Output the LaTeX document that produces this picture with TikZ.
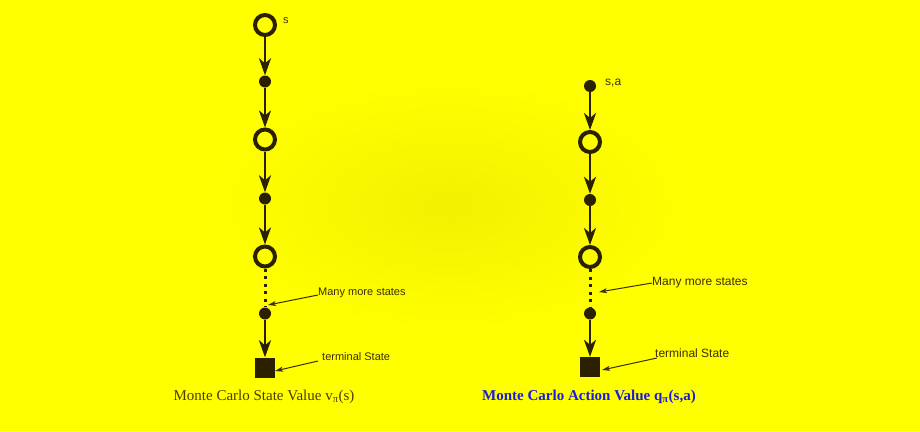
\documentclass[tikz,border=0pt]{standalone}
\usepackage{fontspec}
\setmainfont{Liberation Serif}
\newfontfamily\labfont{Liberation Sans}
\usetikzlibrary{arrows.meta}
\definecolor{ink}{HTML}{2B2100}
\definecolor{labink}{HTML}{3E2F00}
\definecolor{capbrown}{HTML}{4D3B00}
\definecolor{capblue}{HTML}{1A1AE0}
\definecolor{bgyel}{HTML}{FFFF00}
\definecolor{bgmid}{HTML}{F3F000}
\begin{document}
\begin{tikzpicture}[x=1pt,y=-1pt,
 statenode/.style={circle,draw=ink,line width=4pt,minimum size=20pt,inner sep=0pt},
 actnode/.style={circle,fill=ink,minimum size=12pt,inner sep=0pt},
 termnode/.style={rectangle,fill=ink,minimum size=20pt,inner sep=0pt},
 flow/.style={draw=ink,line width=2.5pt,-{Stealth[length=17pt,width=12pt,inset=5pt]}},
 more/.style={draw=ink,line width=3pt,dash pattern=on 3pt off 4.5pt},
 noteL/.style={inner sep=0pt,anchor=west,text=labink,font=\labfont\fontsize{11}{13}\selectfont},
 noteR/.style={inner sep=0pt,anchor=west,text=labink,font=\labfont\fontsize{12}{14}\selectfont},
 pointer/.style={draw=labink,line width=1pt,-{Stealth[length=8pt,width=5pt,inset=2pt]}},
]
% background
\fill[bgyel] (0,0) rectangle (920,431);
\shade[inner color=bgmid,outer color=bgyel] (450,205) ellipse (240 and 125);
\useasboundingbox (0,0) rectangle (920,431);

% left column
\node[statenode] (lc1) at (265,25) {};
\node[actnode]   (ld1) at (265,81.5) {};
\node[statenode] (lc2) at (265,139.5) {};
\node[actnode]   (ld2) at (265,198.5) {};
\node[statenode] (lc3) at (265,256.5) {};
\node[actnode]   (ld3) at (265,313.5) {};
\node[termnode]  (lt)  at (265,367.5) {};
\draw[flow] (lc1) -- (ld1);
\draw[flow] (ld1) -- (lc2);
\draw[flow] (lc2) -- (ld2);
\draw[flow] (ld2) -- (lc3);
\draw[more] (lc3) -- (ld3);
\draw[flow] (ld3) -- (lt);
\node[noteL] (ls) at (283,21) {s};
\node[noteL] (lmany) at (318,293) {Many more states};
\node[noteL] (lterm) at (322,357) {terminal State};
\coordinate (lmanyp) at (268,305);
\coordinate (ltermp) at (275,371);
\draw[pointer] ([yshift=-2pt]lmany.west) -- (lmanyp);
\draw[pointer] ([yshift=-4pt,xshift=-4pt]lterm.west) -- (ltermp);
\node[font=\fontsize{15}{18}\selectfont,text=capbrown] (lcap) at (264,397) {Monte Carlo State Value v\textsubscript{π}(s)};

% right column
\node[actnode]   (rd0) at (590,86) {};
\node[statenode] (rc1) at (590,142) {};
\node[actnode]   (rd1) at (590,200) {};
\node[statenode] (rc2) at (590,257) {};
\node[actnode]   (rd2) at (590,313.5) {};
\node[termnode]  (rt)  at (590,367) {};
\draw[flow] (rd0) -- (rc1);
\draw[flow] (rc1) -- (rd1);
\draw[flow] (rd1) -- (rc2);
\draw[more] (rc2) -- (rd2);
\draw[flow] (rd2) -- (rt);
\node[noteR] (rsa) at (605,83) {s,a};
\node[noteR] (rmany) at (652,283) {Many more states};
\node[noteR] (rterm) at (655,353) {terminal State};
\coordinate (rmanyp) at (599,292);
\coordinate (rtermp) at (602,370);
\draw[pointer] (rmany.west) -- (rmanyp);
\draw[pointer] ([yshift=-5pt,xshift=2pt]rterm.west) -- (rtermp);
\node[font=\bfseries\fontsize{15}{18}\selectfont,text=capblue] (rcap) at (589,397) {Monte Carlo Action Value q\textsubscript{π}(s,a)};
\end{tikzpicture}
\end{document}
